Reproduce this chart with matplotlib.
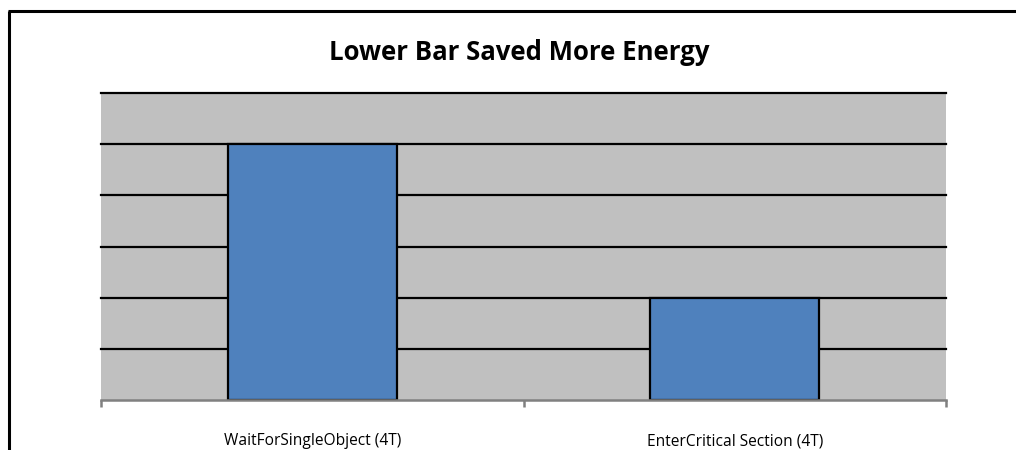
import matplotlib.pyplot as plt
from matplotlib.lines import Line2D

# data
categories = ["WaitForSingleObject (4T)", "EnterCritical Section (4T)"]
values = [5, 2]
grid_levels = [1, 2, 3, 4, 5, 6]

fig = plt.figure(figsize=(10.16, 4.5), dpi=100)
ax = fig.add_axes([101 / 1016, 1 - 400 / 450, 845 / 1016, 307 / 450])

ax.set_facecolor("#C0C0C0")
ax.set_xlim(-0.5, len(categories) - 0.5)
ax.set_ylim(0, 6)

for g in grid_levels:
    ax.axhline(g, color="black", lw=1.6, zorder=1, clip_on=False)

x = list(range(len(categories)))
ax.bar(x, values, width=0.4, color="#4F81BD", edgecolor="black", linewidth=1.6, zorder=2)

for s in ["left", "right", "top"]:
    ax.spines[s].set_visible(False)
ax.spines["bottom"].set_color("#808080")
ax.spines["bottom"].set_linewidth(1.8)

ax.set_yticks([])
ax.set_xticks(x)
ax.set_xticklabels(categories, fontsize=11.2, family="Open Sans")
ax.tick_params(axis="x", which="major", length=0, pad=24)
ax.set_xticks([-0.5, 0.5, 1.5], minor=True)
ax.tick_params(axis="x", which="minor", length=5, width=1.8, color="#808080")

fig.text(519 / 1016, 1 - 52 / 450, "Lower Bar Saved More Energy", ha="center", va="center",
         fontsize=18.5, fontweight="bold", family="Open Sans")

# outer chart border: only left and top edges fall inside the image
bx = 8.5 / 1016
by = 1 - 10.5 / 450
fig.add_artist(Line2D([bx, bx], [-0.05, by], transform=fig.transFigure, color="black", lw=2.2,
                      solid_capstyle="butt"))
fig.add_artist(Line2D([bx - 1 / 1016, 1.05], [by, by], transform=fig.transFigure, color="black", lw=2.2,
                      solid_capstyle="butt"))

fig.savefig("out.png", dpi=100)
